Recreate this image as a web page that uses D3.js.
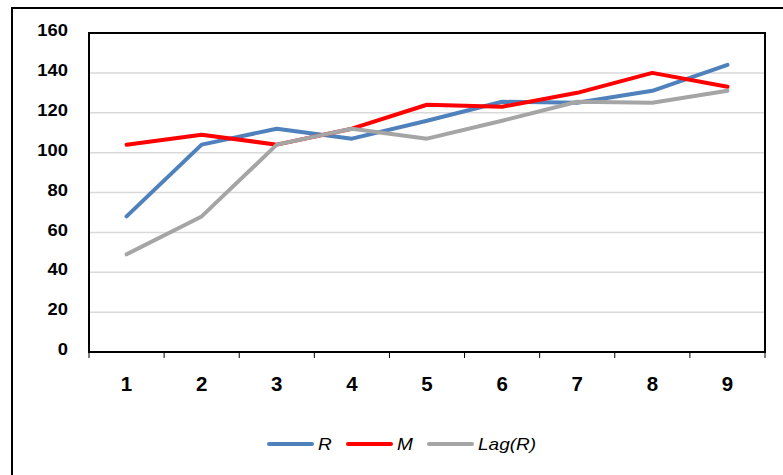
<!DOCTYPE html>
<html>
<head>
<meta charset="utf-8">
<script src="https://cdn.jsdelivr.net/npm/d3@7"></script>
<style>
  body { margin: 0; background: #fff; }
  svg { display: block; font-family: Arial, "Liberation Sans", sans-serif; }
</style>
</head>
<body>
<div id="chart"></div>
<script>
// chart data
var categories = ["1", "2", "3", "4", "5", "6", "7", "8", "9"];
var seriesR = [68, 104, 112, 107, 116, 125.5, 125, 131, 144];
var seriesM = [104, 109, 104, 112, 124, 123, 130, 140, 133];
var seriesLag = [49, 68, 104, 112, 107, 116, 125.5, 125, 131];
var yTicks = [0, 20, 40, 60, 80, 100, 120, 140, 160];

var series = [
  { name: "R", values: seriesR, color: "#4F81BD" },
  { name: "M", values: seriesM, color: "#FF0000" },
  { name: "Lag(R)", values: seriesLag, color: "#A5A5A5" }
];

var width = 783, height = 475;
var plot = { left: 89, top: 33, right: 765, bottom: 352 };

var svg = d3.select("#chart").append("svg")
  .attr("width", width).attr("height", height);

// outer chart frame (runs off the right / bottom edge)
svg.append("rect")
  .attr("x", 12).attr("y", 8)
  .attr("width", 800).attr("height", 500)
  .attr("fill", "none").attr("stroke", "#000").attr("stroke-width", 2);

var x = d3.scaleBand().domain(categories).range([plot.left, plot.right]);
var y = d3.scaleLinear().domain([0, 160]).range([plot.bottom, plot.top]);

// gridlines
svg.append("g").selectAll("line")
  .data(yTicks.filter(function(d) { return d > 0 && d < 160; }))
  .enter().append("line")
  .attr("x1", plot.left).attr("x2", plot.right)
  .attr("y1", function(d) { return y(d); })
  .attr("y2", function(d) { return y(d); })
  .attr("stroke", "#D9D9D9").attr("stroke-width", 1.5);

// plot frame
svg.append("rect")
  .attr("x", plot.left).attr("y", plot.top)
  .attr("width", plot.right - plot.left).attr("height", plot.bottom - plot.top)
  .attr("fill", "none").attr("stroke", "#000").attr("stroke-width", 2);

// y axis labels (original text is a bit stretched sideways)
svg.append("g").selectAll("text")
  .data(yTicks)
  .enter().append("text")
  .attr("transform", function(d) { return "translate(68," + (y(d) - 3) + ") scale(1.08,1)"; })
  .attr("dy", "0.36em")
  .attr("text-anchor", "end")
  .attr("style", "font-size:17px;font-weight:bold")
  .text(function(d) { return d; });

// x axis ticks, between categories
var bounds = categories.map(function(c) { return x(c); }).concat([plot.right]);
svg.append("g").selectAll("line")
  .data(bounds)
  .enter().append("line")
  .attr("x1", function(d) { return d; }).attr("x2", function(d) { return d; })
  .attr("y1", plot.bottom).attr("y2", plot.bottom + 6)
  .attr("stroke", "#000").attr("stroke-width", 1);

svg.append("g").selectAll("text")
  .data(categories)
  .enter().append("text")
  .attr("transform", function(d) {
    return "translate(" + (x(d) + x.bandwidth() / 2) + ",391) scale(1.05,1)";
  })
  .attr("text-anchor", "middle")
  .attr("style", "font-size:19.5px;font-weight:bold")
  .text(function(d) { return d; });

// lines
var line = d3.line()
  .x(function(d, i) { return x(categories[i]) + x.bandwidth() / 2; })
  .y(function(d) { return y(d); });

svg.append("g").selectAll("path")
  .data(series)
  .enter().append("path")
  .attr("d", function(d) { return line(d.values); })
  .attr("fill", "none")
  .attr("stroke", function(d) { return d.color; })
  .attr("stroke-width", 4)
  .attr("stroke-linejoin", "round")
  .attr("stroke-linecap", "round");

// legend
var legendX = [269, 348, 429];
var legend = svg.append("g").selectAll("g")
  .data(series)
  .enter().append("g")
  .attr("transform", function(d, i) { return "translate(" + legendX[i] + ",444)"; });

legend.append("line")
  .attr("x1", 0).attr("x2", 43).attr("y1", 0).attr("y2", 0)
  .attr("stroke", function(d) { return d.color; })
  .attr("stroke-width", 4).attr("stroke-linecap", "round");

legend.append("text")
  .attr("transform", "translate(49,0) scale(1.12,1)")
  .attr("dy", "0.36em")
  .attr("style", "font-size:17px;font-style:italic")
  .text(function(d) { return d.name; });
</script>
</body>
</html>
